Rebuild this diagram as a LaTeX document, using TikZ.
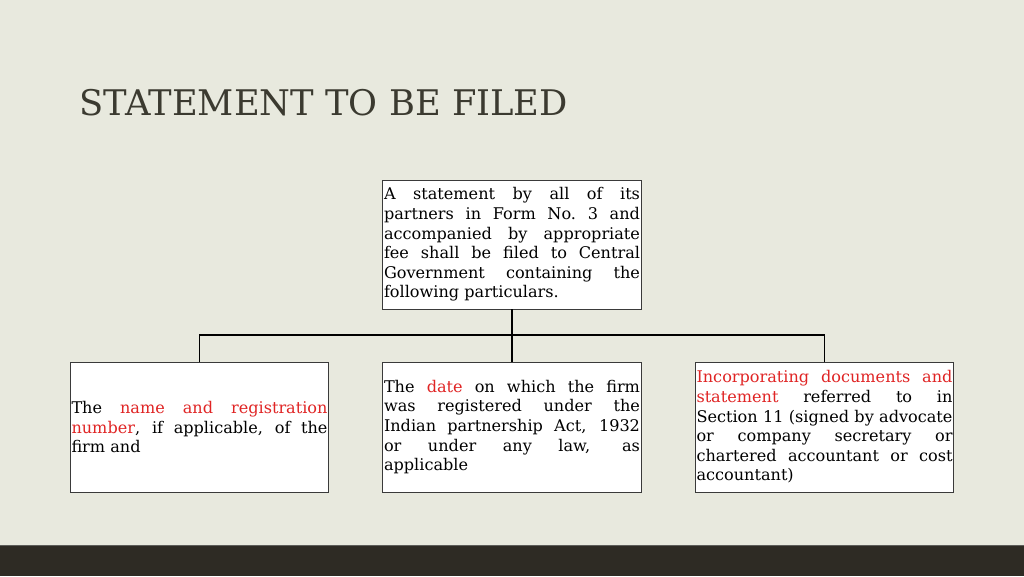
\documentclass[tikz,border=0pt]{standalone}
\usepackage{fontspec}
\setmainfont{DejaVu Serif}
\definecolor{bg}{HTML}{E8E9DE}
\definecolor{barc}{HTML}{2E2B24}
\definecolor{titlec}{HTML}{3B3A30}
\definecolor{redt}{HTML}{E02424}
\definecolor{boxline}{HTML}{3A3A3A}
\newcommand{\boxfont}{\fontsize{16.1}{19.6}\selectfont\hyphenpenalty=10000\exhyphenpenalty=10000}
\tikzset{
  infobox/.style={draw=boxline, line width=0.9pt, fill=white, inner sep=1.2pt,
    text width=256pt, align=justify, font=\boxfont,
    minimum height=130pt, anchor=center},
  conn/.style={draw=black, line width=1.1pt}
}
\begin{document}
\begin{tikzpicture}[x=1pt,y=-1pt]
\fill[bg] (0,0) rectangle (1024,576);
\useasboundingbox (0,0) rectangle (1024,576);
\fill[barc] (0,545) rectangle (1024,576);
\draw[color=black!60!bg, line width=1pt] (0,545.5) -- (1024,545.5);
\node[anchor=base west, text=titlec, font=\fontsize{35.3}{40}\selectfont, inner sep=0pt] (title) at (79,115) {STATEMENT TO BE FILED};
\node[infobox, minimum height=129pt] (top) at (512,244.5) {A statement by all of its\linebreak partners in Form No.~3 and\linebreak accompanied by appropriate\linebreak fee shall be filed to Central\linebreak Government containing the\linebreak following particulars.};
\node[infobox] (left) at (199.5,427) {The \textcolor{redt}{name and registration}\linebreak \textcolor{redt}{number}, if applicable, of the\linebreak firm and};
\node[infobox] (mid) at (512,427) {The \textcolor{redt}{date} on which the firm\linebreak was registered under the\linebreak Indian partnership Act, 1932\linebreak or under any law, as\linebreak applicable};
\node[infobox] (right) at (824.5,427) {\textcolor{redt}{Incorporating documents and}\linebreak \textcolor{redt}{statement} referred to in\linebreak Section 11 (signed by advocate\linebreak or company secretary or\linebreak chartered accountant or cost\linebreak accountant)};
\coordinate (j) at (512,335);
\draw[conn, line width=1.6pt] (top.south) -- (j);
\draw[conn] (left.north) |- (j) -| (right.north);
\draw[conn] (j) -- (mid.north);
\end{tikzpicture}
\end{document}
